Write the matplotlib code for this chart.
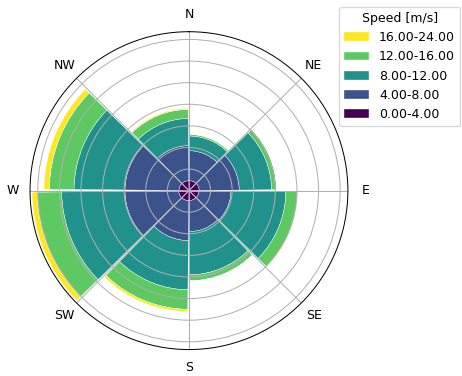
import numpy as np
import matplotlib.pyplot as plt

# direction sectors (bars sit between the compass labels)
sector_start = [0, 45, 90, 135, 180, 225, 270, 315]
dir_labels = ['N', 'NE', 'E', 'SE', 'S', 'SW', 'W', 'NW']

# frequency [%] per speed bin, one value per sector
speed_bins = ['0.00-4.00', '4.00-8.00', '8.00-12.00', '12.00-16.00', '16.00-24.00']
f_0_4 = [0.93, 0.95, 0.93, 0.92, 0.93, 0.95, 0.93, 0.92]
f_4_8 = [2.77, 3.71, 2.96, 2.88, 3.70, 4.98, 5.00, 3.25]
f_8_12 = [1.36, 3.00, 5.09, 4.00, 4.56, 5.86, 4.72, 2.52]
f_12_16 = [0.15, 0.46, 1.08, 0.56, 1.80, 2.26, 2.29, 0.84]
f_16_24 = [0.00, 0.00, 0.04, 0.00, 0.21, 0.49, 0.49, 0.09]

freqs = [f_0_4, f_4_8, f_8_12, f_12_16, f_16_24]
colors = plt.cm.viridis(np.linspace(0, 1, len(speed_bins)))

# figure drawn at 90 dpi -> 462x376 px
fig = plt.figure(figsize=(462 / 90, 376 / 90), dpi=90)
ax = fig.add_axes([0.065, 0.07, 0.688, 0.846], projection='polar')
ax.set_theta_zero_location('N')
ax.set_theta_direction(-1)

theta = np.radians(np.array(sector_start) + 22.5)
width = np.radians(45 - 1.2)
bottom = np.zeros(len(sector_start))
handles = []
for vals, col, lab in zip(freqs, colors, speed_bins):
    vals = np.array(vals)
    b = ax.bar(theta, vals, width=width, bottom=bottom, color=col,
               edgecolor='white', linewidth=0.3, label=lab)
    handles.append(b)
    bottom = bottom + vals

ax.set_xticks(np.radians(np.arange(0, 360, 45)))
ax.set_xticklabels(dir_labels)
ax.set_ylim(0, 14.72)
ax.set_yticks(np.arange(2, 15, 2))
ax.set_yticklabels([])

leg = ax.legend(handles[::-1], speed_bins[::-1], title='Speed [m/s]',
                loc='upper left', bbox_to_anchor=(0.734, 0.982),
                bbox_transform=fig.transFigure, borderaxespad=0)

plt.savefig('out.png', dpi=90)
